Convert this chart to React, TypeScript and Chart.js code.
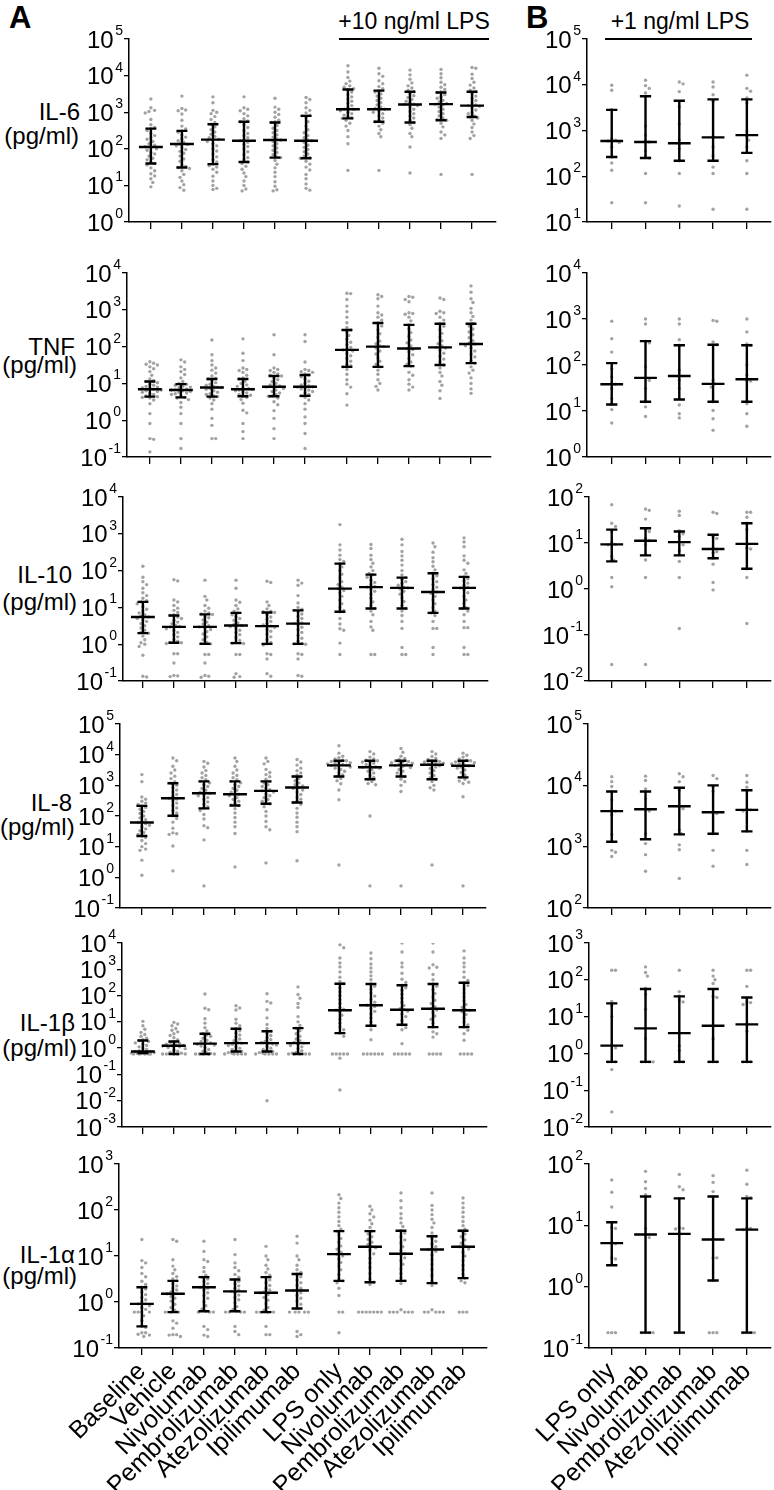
import React, { useEffect, useRef } from 'react';
import { Chart, registerables } from 'chart.js';
Chart.register(...registerables);

const FONT = '"Liberation Sans", Arial, Helvetica, sans-serif';

// ---------- categories ----------
const groupsA = ['Baseline', 'Vehicle', 'Nivolumab', 'Pembrolizumab', 'Atezolizumab', 'Ipilimumab', 'LPS only', 'Nivolumab', 'Pembrolizumab', 'Atezolizumab', 'Ipilimumab'];
const groupsB = ['LPS only', 'Nivolumab', 'Pembrolizumab', 'Atezolizumab', 'Ipilimumab'];
const cytokines = ['IL-6', 'TNF', 'IL-10', 'IL-8', 'IL-1β', 'IL-1α'];
const unitLabel = '(pg/ml)';
const headerA = '+10 ng/ml LPS';
const headerB = '+1 ng/ml LPS';

// y ranges (log10 exponents of tick labels 10^n)
const yRangeA = [[0, 5], [-1, 4], [-1, 4], [-1, 5], [-3, 4], [-1, 3]];
const yRangeB = [[1, 5], [0, 4], [-2, 2], [2, 5], [-2, 3], [-1, 2]];

// ---------- data: log10(pg/ml), one inner list per group ----------
// IL-6, panel A
const il6A = [
  [3.36, 3.12, 3.05, 3.02, 2.98, 2.80, 2.66, 2.58, 2.55, 2.50, 2.42, 2.36, 2.30, 2.26, 2.20, 2.14, 2.10, 2.06, 2.04, 2.00, 1.96, 1.90, 1.86, 1.80, 1.74, 1.70, 1.64, 1.60, 1.56, 1.48, 1.40, 1.32, 1.26, 1.18, 1.08, 0.96],
  [3.44, 3.10, 3.06, 3.04, 2.95, 2.78, 2.62, 2.54, 2.49, 2.45, 2.38, 2.32, 2.27, 2.22, 2.18, 2.13, 2.12, 2.08, 2.02, 1.98, 1.93, 1.88, 1.80, 1.72, 1.66, 1.56, 1.52, 1.49, 1.46, 1.40, 1.30, 1.22, 1.12, 1.02, 0.94, 0.87],
  [3.42, 3.26, 3.05, 3.00, 2.96, 2.88, 2.80, 2.72, 2.67, 2.60, 2.52, 2.46, 2.40, 2.34, 2.30, 2.26, 2.25, 2.20, 2.14, 2.08, 2.00, 1.94, 1.86, 1.78, 1.70, 1.64, 1.58, 1.54, 1.50, 1.44, 1.36, 1.25, 1.12, 1.00, 0.92, 0.89],
  [3.42, 3.12, 3.08, 3.04, 2.96, 2.90, 2.82, 2.76, 2.74, 2.66, 2.58, 2.50, 2.42, 2.36, 2.30, 2.25, 2.22, 2.18, 2.12, 2.06, 2.00, 1.92, 1.84, 1.76, 1.70, 1.64, 1.60, 1.52, 1.44, 1.34, 1.24, 1.12, 1.00, 0.90, 0.85],
  [3.38, 3.14, 3.08, 3.00, 2.94, 2.86, 2.78, 2.74, 2.72, 2.64, 2.56, 2.50, 2.44, 2.38, 2.32, 2.27, 2.24, 2.20, 2.14, 2.08, 2.02, 1.96, 1.90, 1.84, 1.78, 1.76, 1.68, 1.58, 1.48, 1.36, 1.24, 1.10, 0.98, 0.88, 0.85],
  [3.40, 3.35, 3.26, 3.12, 3.05, 2.98, 2.92, 2.90, 2.84, 2.74, 2.62, 2.52, 2.44, 2.36, 2.30, 2.24, 2.22, 2.18, 2.10, 2.04, 1.98, 1.92, 1.86, 1.80, 1.76, 1.74, 1.66, 1.58, 1.50, 1.42, 1.30, 1.18, 1.04, 0.92, 0.87],
  [4.27, 4.10, 3.95, 3.85, 3.78, 3.72, 3.68, 3.64, 3.62, 3.55, 3.48, 3.42, 3.36, 3.30, 3.24, 3.18, 3.12, 3.08, 3.08, 3.04, 3.00, 2.96, 2.92, 2.88, 2.85, 2.83, 2.78, 2.70, 2.62, 2.50, 2.33, 2.14, 1.41],
  [4.20, 4.05, 3.98, 3.86, 3.78, 3.70, 3.64, 3.59, 3.55, 3.50, 3.44, 3.38, 3.32, 3.26, 3.20, 3.14, 3.10, 3.08, 3.04, 3.00, 2.96, 2.90, 2.84, 2.78, 2.74, 2.70, 2.62, 2.52, 2.42, 2.33, 1.41],
  [4.15, 4.02, 3.90, 3.80, 3.72, 3.66, 3.60, 3.56, 3.50, 3.45, 3.40, 3.35, 3.30, 3.26, 3.22, 3.21, 3.18, 3.14, 3.08, 3.02, 2.96, 2.90, 2.84, 2.78, 2.72, 2.66, 2.56, 2.42, 2.33, 2.05, 1.34],
  [4.17, 4.05, 3.94, 3.82, 3.75, 3.68, 3.62, 3.56, 3.54, 3.48, 3.42, 3.38, 3.32, 3.28, 3.24, 3.22, 3.20, 3.14, 3.08, 3.02, 2.96, 2.90, 2.84, 2.80, 2.78, 2.70, 2.60, 2.46, 2.38, 2.28, 1.30],
  [4.22, 4.20, 4.04, 3.92, 3.82, 3.74, 3.66, 3.60, 3.56, 3.50, 3.44, 3.38, 3.32, 3.26, 3.20, 3.18, 3.16, 3.12, 3.06, 3.00, 2.96, 2.90, 2.87, 2.84, 2.78, 2.68, 2.58, 2.46, 2.36, 2.28, 1.30],
];
const il6AMed = [2.05, 2.13, 2.25, 2.22, 2.24, 2.22, 3.08, 3.08, 3.21, 3.22, 3.18];
const il6AQ1 = [1.60, 1.49, 1.58, 1.64, 1.76, 1.74, 2.83, 2.74, 2.72, 2.78, 2.87];
const il6AQ3 = [2.55, 2.49, 2.67, 2.74, 2.72, 2.90, 3.62, 3.59, 3.56, 3.54, 3.56];

// TNF, panel A
const tnfA = [
  [1.59, 1.55, 1.52, 1.50, 1.45, 1.40, 1.32, 1.22, 1.12, 1.08, 1.05, 1.02, 0.98, 0.95, 0.92, 0.90, 0.88, 0.86, 0.84, 0.82, 0.80, 0.78, 0.76, 0.72, 0.70, 0.66, 0.64, 0.62, 0.60, 0.55, 0.45, 0.18, -0.09, -0.50, -0.52, -0.86],
  [1.64, 1.58, 1.45, 1.38, 1.32, 1.24, 1.15, 1.05, 1.00, 0.98, 0.95, 0.92, 0.90, 0.88, 0.85, 0.83, 0.82, 0.80, 0.78, 0.76, 0.74, 0.72, 0.70, 0.66, 0.62, 0.60, 0.56, 0.48, 0.35, 0.18, -0.09, -0.50, -0.77],
  [2.18, 1.78, 1.62, 1.50, 1.42, 1.36, 1.28, 1.20, 1.14, 1.12, 1.08, 1.02, 0.98, 0.95, 0.92, 0.90, 0.89, 0.86, 0.84, 0.80, 0.76, 0.72, 0.70, 0.66, 0.64, 0.60, 0.55, 0.45, 0.30, 0.05, -0.14, -0.50, -0.50],
  [2.21, 1.82, 1.62, 1.42, 1.38, 1.35, 1.30, 1.22, 1.15, 1.12, 1.06, 1.00, 0.96, 0.92, 0.88, 0.86, 0.84, 0.82, 0.80, 0.77, 0.74, 0.70, 0.68, 0.65, 0.62, 0.56, 0.46, 0.27, 0.20, -0.09, -0.31, -0.50],
  [2.32, 1.78, 1.42, 1.38, 1.35, 1.30, 1.26, 1.22, 1.20, 1.15, 1.10, 1.05, 1.00, 0.96, 0.93, 0.91, 0.90, 0.86, 0.82, 0.78, 0.74, 0.70, 0.66, 0.65, 0.60, 0.50, 0.42, 0.26, 0.05, -0.23, -0.50],
  [2.32, 2.14, 1.58, 1.38, 1.35, 1.32, 1.30, 1.26, 1.23, 1.18, 1.12, 1.06, 1.00, 0.96, 0.93, 0.91, 0.90, 0.88, 0.85, 0.82, 0.78, 0.74, 0.70, 0.66, 0.62, 0.55, 0.45, 0.30, 0.09, -0.09, -0.36, -0.77],
  [3.45, 3.44, 3.28, 3.10, 2.95, 2.80, 2.65, 2.52, 2.45, 2.40, 2.30, 2.20, 2.12, 2.05, 1.98, 1.93, 1.91, 1.88, 1.82, 1.75, 1.68, 1.60, 1.52, 1.48, 1.45, 1.38, 1.25, 1.10, 0.98, 0.90, 0.72, 0.41],
  [3.41, 3.36, 3.30, 3.10, 2.92, 2.86, 2.80, 2.72, 2.64, 2.56, 2.45, 2.35, 2.25, 2.15, 2.08, 2.02, 2.00, 1.96, 1.88, 1.80, 1.70, 1.60, 1.52, 1.45, 1.36, 1.25, 1.10, 1.00, 0.92, 0.82],
  [3.36, 3.34, 3.28, 3.22, 2.92, 2.90, 2.88, 2.80, 2.70, 2.59, 2.48, 2.38, 2.28, 2.18, 2.10, 2.02, 1.95, 1.92, 1.86, 1.78, 1.68, 1.58, 1.52, 1.47, 1.30, 1.22, 1.10, 0.98, 0.90, 0.82],
  [3.32, 3.28, 2.96, 2.92, 2.90, 2.80, 2.72, 2.62, 2.55, 2.46, 2.36, 2.26, 2.16, 2.08, 2.02, 1.98, 1.96, 1.90, 1.82, 1.74, 1.66, 1.58, 1.50, 1.42, 1.30, 1.20, 1.05, 0.95, 0.80, 0.59],
  [3.65, 3.48, 3.30, 3.20, 3.04, 2.92, 2.82, 2.72, 2.62, 2.56, 2.48, 2.40, 2.32, 2.24, 2.16, 2.10, 2.07, 2.02, 1.96, 1.88, 1.80, 1.72, 1.62, 1.55, 1.45, 1.36, 1.28, 1.15, 1.00, 0.85, 0.73],
];
const tnfAMed = [0.84, 0.82, 0.89, 0.84, 0.91, 0.91, 1.91, 2.00, 1.95, 1.98, 2.07];
const tnfAQ1 = [0.64, 0.62, 0.64, 0.65, 0.65, 0.66, 1.45, 1.45, 1.47, 1.50, 1.55];
const tnfAQ3 = [1.05, 0.98, 1.12, 1.12, 1.20, 1.23, 2.45, 2.64, 2.59, 2.62, 2.62];

// IL-10, panel A
const il10A = [
  [2.12, 1.82, 1.70, 1.62, 1.52, 1.40, 1.32, 1.25, 1.18, 1.15, 1.10, 1.02, 0.95, 0.90, 0.85, 0.80, 0.76, 0.74, 0.70, 0.66, 0.62, 0.56, 0.50, 0.44, 0.38, 0.32, 0.30, 0.22, 0.12, 0.04, 0.00, -0.06, -0.30, -0.87, -0.89],
  [1.75, 1.72, 1.20, 1.15, 1.05, 0.98, 0.92, 0.86, 0.80, 0.78, 0.74, 0.70, 0.65, 0.60, 0.56, 0.50, 0.48, 0.47, 0.42, 0.38, 0.32, 0.26, 0.20, 0.12, 0.08, 0.05, 0.04, 0.02, -0.26, -0.26, -0.51, -0.85, -0.86, -0.88],
  [1.74, 1.30, 1.20, 1.05, 0.98, 0.90, 0.85, 0.82, 0.81, 0.76, 0.72, 0.66, 0.60, 0.55, 0.50, 0.47, 0.44, 0.40, 0.34, 0.28, 0.20, 0.12, 0.05, 0.02, 0.01, -0.28, -0.28, -0.51, -0.85, -0.87, -0.90],
  [1.74, 1.52, 1.20, 1.14, 1.05, 0.96, 0.90, 0.85, 0.80, 0.75, 0.70, 0.65, 0.58, 0.54, 0.51, 0.48, 0.44, 0.38, 0.32, 0.26, 0.18, 0.10, 0.05, 0.03, 0.02, -0.28, -0.28, -0.80, -0.88, -0.90],
  [1.71, 1.68, 1.15, 1.05, 0.96, 0.90, 0.88, 0.86, 0.80, 0.74, 0.68, 0.62, 0.56, 0.52, 0.49, 0.46, 0.40, 0.35, 0.28, 0.20, 0.12, 0.05, 0.01, -0.02, -0.26, -0.28, -0.40, -0.80, -0.87],
  [1.74, 1.66, 1.60, 1.32, 1.12, 1.00, 0.95, 0.92, 0.88, 0.82, 0.76, 0.70, 0.64, 0.58, 0.56, 0.52, 0.46, 0.40, 0.32, 0.24, 0.16, 0.08, 0.02, 0.01, 0.00, -0.26, -0.28, -0.40, -0.85, -0.87],
  [3.25, 2.70, 2.56, 2.42, 2.30, 2.25, 2.19, 2.10, 2.00, 1.90, 1.80, 1.70, 1.62, 1.55, 1.51, 1.46, 1.40, 1.30, 1.20, 1.10, 1.00, 0.92, 0.88, 0.70, 0.55, 0.42, 0.38, 0.03, -0.28],
  [2.71, 2.60, 2.42, 2.30, 2.20, 2.10, 2.00, 1.92, 1.89, 1.82, 1.74, 1.68, 1.62, 1.57, 1.55, 1.50, 1.44, 1.36, 1.25, 1.15, 1.05, 0.97, 0.90, 0.80, 0.62, 0.47, 0.38, -0.28, -0.28],
  [2.85, 2.70, 2.52, 2.40, 2.28, 2.15, 2.00, 1.88, 1.81, 1.76, 1.70, 1.65, 1.60, 1.55, 1.53, 1.50, 1.44, 1.36, 1.26, 1.16, 1.05, 0.97, 0.90, 0.78, 0.62, 0.43, -0.09, -0.28, -0.28],
  [2.75, 2.65, 2.50, 2.35, 2.24, 2.12, 2.02, 1.93, 1.86, 1.78, 1.70, 1.62, 1.55, 1.48, 1.42, 1.38, 1.30, 1.20, 1.10, 1.00, 0.90, 0.85, 0.78, 0.62, 0.43, 0.43, -0.09, -0.28],
  [2.89, 2.78, 2.65, 2.40, 2.28, 2.20, 2.02, 1.92, 1.83, 1.78, 1.72, 1.66, 1.60, 1.55, 1.53, 1.48, 1.40, 1.30, 1.20, 1.10, 1.00, 0.97, 0.90, 0.80, 0.62, 0.45, 0.45, -0.09, -0.28, -0.28],
];
const il10AMed = [0.74, 0.47, 0.47, 0.51, 0.49, 0.56, 1.51, 1.55, 1.53, 1.42, 1.53];
const il10AQ1 = [0.30, 0.04, 0.01, 0.03, 0.01, 0.01, 0.88, 0.97, 0.97, 0.85, 0.97];
const il10AQ3 = [1.15, 0.78, 0.81, 0.85, 0.86, 0.92, 2.19, 1.89, 1.81, 1.93, 1.83];

// IL-8, panel A
const il8A = [
  [3.35, 3.12, 2.62, 2.55, 2.48, 2.42, 2.38, 2.33, 2.28, 2.22, 2.15, 2.08, 2.00, 1.94, 1.88, 1.82, 1.79, 1.75, 1.70, 1.64, 1.58, 1.52, 1.46, 1.40, 1.35, 1.30, 1.20, 1.10, 1.00, 0.92, 0.88, 0.56, 0.07],
  [3.89, 3.80, 3.62, 3.50, 3.40, 3.30, 3.22, 3.12, 3.07, 3.00, 2.92, 2.85, 2.78, 2.70, 2.64, 2.58, 2.55, 2.50, 2.42, 2.34, 2.26, 2.18, 2.10, 2.01, 1.92, 1.80, 1.60, 1.45, 1.42, 1.40, 1.02, 0.21],
  [3.78, 3.72, 3.60, 3.48, 3.40, 3.32, 3.25, 3.18, 3.13, 3.08, 3.02, 2.96, 2.90, 2.84, 2.78, 2.74, 2.70, 2.66, 2.60, 2.54, 2.46, 2.38, 2.30, 2.25, 2.18, 2.05, 1.90, 1.68, 1.62, 1.22, -0.28],
  [3.89, 3.78, 3.62, 3.50, 3.40, 3.32, 3.25, 3.18, 3.13, 3.08, 3.02, 2.96, 2.90, 2.84, 2.78, 2.72, 2.71, 2.66, 2.60, 2.54, 2.48, 2.42, 2.36, 2.34, 2.24, 2.10, 1.95, 1.80, 1.65, 1.43, 0.34],
  [3.89, 3.78, 3.70, 3.52, 3.42, 3.35, 3.28, 3.20, 3.13, 3.08, 3.02, 2.96, 2.90, 2.86, 2.82, 2.78, 2.72, 2.66, 2.60, 2.54, 2.48, 2.42, 2.40, 2.30, 2.15, 2.00, 1.82, 1.65, 1.55, 0.47],
  [3.84, 3.76, 3.66, 3.56, 3.48, 3.40, 3.34, 3.29, 3.22, 3.15, 3.08, 3.02, 2.98, 2.93, 2.90, 2.85, 2.78, 2.70, 2.62, 2.55, 2.48, 2.44, 2.38, 2.25, 2.10, 1.96, 1.80, 1.65, 1.49, 0.54],
  [4.29, 4.05, 3.95, 3.90, 3.86, 3.82, 3.80, 3.78, 3.76, 3.74, 3.72, 3.70, 3.68, 3.66, 3.65, 3.63, 3.60, 3.56, 3.52, 3.46, 3.40, 3.34, 3.29, 3.22, 3.15, 3.05, 2.85, 2.53, 0.40],
  [4.10, 4.02, 3.92, 3.86, 3.82, 3.80, 3.78, 3.76, 3.72, 3.68, 3.64, 3.60, 3.59, 3.56, 3.52, 3.46, 3.40, 3.32, 3.26, 3.20, 3.12, 3.06, 3.02, 2.00, -0.28],
  [4.20, 4.08, 3.95, 3.88, 3.84, 3.80, 3.78, 3.76, 3.74, 3.72, 3.70, 3.67, 3.65, 3.62, 3.58, 3.52, 3.46, 3.40, 3.34, 3.29, 3.20, 3.12, 3.00, 2.80, -0.28],
  [4.10, 4.02, 3.94, 3.88, 3.84, 3.80, 3.78, 3.76, 3.74, 3.72, 3.70, 3.67, 3.64, 3.60, 3.55, 3.48, 3.40, 3.32, 3.25, 3.20, 3.12, 3.00, 2.92, 2.85, 0.40],
  [4.05, 3.98, 3.92, 3.86, 3.82, 3.80, 3.78, 3.76, 3.74, 3.72, 3.70, 3.66, 3.64, 3.60, 3.56, 3.50, 3.42, 3.34, 3.26, 3.20, 3.14, 3.10, 3.06, 2.63, -0.28],
];
const il8AMed = [1.79, 2.58, 2.74, 2.71, 2.82, 2.93, 3.65, 3.59, 3.65, 3.67, 3.64];
const il8AQ1 = [1.35, 2.01, 2.25, 2.34, 2.40, 2.44, 3.29, 3.20, 3.29, 3.20, 3.26];
const il8AQ3 = [2.33, 3.07, 3.13, 3.13, 3.13, 3.29, 3.80, 3.80, 3.80, 3.80, 3.80];

// IL-1beta, panel A
const il1bA = [
  [1.02, 0.85, 0.72, 0.60, 0.52, 0.45, 0.38, 0.32, 0.29, 0.25, 0.20, 0.15, 0.10, 0.05, 0.00, -0.05, -0.10, -0.13, -0.13, -0.15, -0.17, -0.19, -0.19, -0.20, -0.21, -0.22, -0.22, -0.22, -0.22, -0.22],
  [0.98, 0.92, 0.85, 0.75, 0.68, 0.62, 0.55, 0.48, 0.40, 0.32, 0.25, 0.22, 0.18, 0.15, 0.12, 0.10, 0.09, 0.08, 0.05, 0.02, -0.02, -0.08, -0.12, -0.16, -0.19, -0.22, -0.22, -0.22, -0.22, -0.22],
  [2.06, 1.52, 1.46, 1.12, 0.95, 0.78, 0.65, 0.55, 0.50, 0.45, 0.38, 0.30, 0.25, 0.20, 0.17, 0.15, 0.12, 0.08, 0.02, -0.05, -0.12, -0.18, -0.20, -0.22, -0.22, -0.22, -0.22, -0.22],
  [1.61, 1.53, 1.45, 1.10, 0.95, 0.85, 0.74, 0.66, 0.58, 0.50, 0.42, 0.35, 0.28, 0.22, 0.19, 0.15, 0.10, 0.05, 0.00, -0.05, -0.10, -0.13, -0.17, -0.20, -0.22, -0.22, -0.22, -0.22, -0.22],
  [2.07, 1.78, 1.72, 1.46, 1.15, 0.90, 0.75, 0.64, 0.56, 0.48, 0.40, 0.32, 0.26, 0.22, 0.19, 0.16, 0.12, 0.06, 0.00, -0.05, -0.10, -0.13, -0.17, -0.20, -0.22, -0.22, -0.22, -0.22, -0.22, -2.00],
  [2.33, 2.04, 1.90, 1.70, 1.55, 1.20, 1.00, 0.86, 0.76, 0.66, 0.55, 0.45, 0.35, 0.28, 0.22, 0.19, 0.15, 0.10, 0.05, -0.02, -0.10, -0.16, -0.19, -0.22, -0.22, -0.22, -0.22, -0.22],
  [3.93, 3.82, 3.43, 3.24, 3.09, 2.90, 2.70, 2.54, 2.45, 2.30, 2.15, 2.00, 1.85, 1.70, 1.55, 1.48, 1.44, 1.38, 1.25, 1.10, 0.95, 0.80, 0.70, 0.57, 0.45, -0.22, -0.22, -0.22, -0.22, -0.22, -0.38, -1.59],
  [3.62, 3.40, 3.20, 3.05, 2.90, 2.75, 2.60, 2.44, 2.35, 2.25, 2.10, 1.98, 1.85, 1.75, 1.66, 1.63, 1.58, 1.50, 1.40, 1.30, 1.15, 1.00, 0.85, 0.70, 0.32, -0.22, -0.22, -0.22, -0.22, -0.22, -0.22],
  [4.00, 3.66, 3.24, 3.09, 2.85, 2.62, 2.50, 2.39, 2.30, 2.20, 2.05, 1.90, 1.75, 1.62, 1.50, 1.46, 1.40, 1.30, 1.20, 1.05, 0.89, 0.78, 0.70, 0.17, -0.22, -0.22, -0.22, -0.22, -0.22],
  [4.00, 3.66, 3.17, 3.08, 3.05, 2.80, 2.60, 2.44, 2.35, 2.22, 2.08, 1.95, 1.82, 1.70, 1.58, 1.50, 1.45, 1.35, 1.22, 1.10, 0.95, 0.80, 0.62, 0.55, 0.42, -0.22, -0.22, -0.22, -0.22],
  [3.70, 3.43, 3.24, 3.09, 2.90, 2.70, 2.58, 2.49, 2.38, 2.25, 2.10, 1.95, 1.80, 1.66, 1.55, 1.46, 1.44, 1.38, 1.28, 1.15, 1.00, 0.88, 0.80, 0.68, 0.55, 0.30, -0.22, -0.22, -0.22, -0.22],
];
const il1bAMed = [-0.13, 0.09, 0.17, 0.19, 0.19, 0.19, 1.44, 1.63, 1.46, 1.50, 1.44];
const il1bAQ1 = [-0.19, -0.22, -0.22, -0.13, -0.13, -0.22, 0.57, 0.85, 0.89, 0.80, 0.80];
const il1bAQ3 = [0.29, 0.25, 0.55, 0.74, 0.64, 0.76, 2.45, 2.44, 2.39, 2.44, 2.49];

// IL-1alpha, panel A
const il1aA = [
  [1.36, 0.90, 0.85, 0.75, 0.62, 0.55, 0.45, 0.38, 0.32, 0.28, 0.22, 0.16, 0.10, 0.05, 0.00, -0.04, -0.04, -0.08, -0.12, -0.16, -0.22, -0.22, -0.22, -0.22, -0.30, -0.40, -0.53, -0.55, -0.67, -0.67, -0.70, -0.72, -0.75],
  [1.36, 1.32, 0.92, 0.78, 0.70, 0.62, 0.55, 0.50, 0.46, 0.40, 0.35, 0.30, 0.26, 0.22, 0.18, 0.18, 0.12, 0.08, 0.02, -0.05, -0.12, -0.18, -0.22, -0.22, -0.22, -0.41, -0.46, -0.57, -0.71, -0.71, -0.72, -0.75],
  [1.32, 1.10, 0.92, 0.88, 0.75, 0.66, 0.58, 0.54, 0.50, 0.45, 0.40, 0.36, 0.32, 0.30, 0.26, 0.20, 0.14, 0.08, 0.00, -0.08, -0.15, -0.20, -0.22, -0.22, -0.22, -0.53, -0.60, -0.72, -0.75],
  [1.36, 1.03, 0.85, 0.75, 0.68, 0.60, 0.54, 0.49, 0.45, 0.40, 0.35, 0.30, 0.26, 0.23, 0.20, 0.15, 0.10, 0.05, -0.02, -0.10, -0.16, -0.20, -0.22, -0.22, -0.22, -0.22, -0.53, -0.64, -0.71],
  [1.21, 1.00, 0.92, 0.80, 0.72, 0.64, 0.58, 0.54, 0.48, 0.42, 0.36, 0.30, 0.26, 0.22, 0.20, 0.16, 0.10, 0.04, -0.04, -0.12, -0.18, -0.22, -0.22, -0.22, -0.22, -0.53, -0.71, -0.71],
  [1.43, 1.28, 1.00, 0.92, 0.80, 0.70, 0.64, 0.61, 0.55, 0.48, 0.42, 0.36, 0.30, 0.26, 0.25, 0.20, 0.14, 0.08, 0.02, -0.05, -0.14, -0.22, -0.22, -0.22, -0.22, -0.22, -0.64, -0.71, -0.75],
  [2.33, 2.25, 2.15, 2.05, 1.95, 1.85, 1.75, 1.66, 1.58, 1.54, 1.46, 1.38, 1.30, 1.22, 1.15, 1.08, 1.04, 1.00, 0.94, 0.86, 0.78, 0.70, 0.60, 0.50, 0.46, 0.42, 0.30, 0.14, -0.22, -0.22, -0.67],
  [2.08, 2.00, 1.92, 1.85, 1.78, 1.70, 1.62, 1.54, 1.48, 1.42, 1.36, 1.30, 1.25, 1.20, 1.18, 1.12, 1.05, 0.95, 0.85, 0.75, 0.62, 0.50, 0.43, 0.38, -0.22, -0.22, -0.22, -0.22, -0.22, -0.22, -0.22],
  [2.37, 2.20, 2.05, 1.92, 1.82, 1.72, 1.64, 1.55, 1.50, 1.42, 1.35, 1.28, 1.20, 1.12, 1.05, 1.02, 0.96, 0.90, 0.82, 0.72, 0.62, 0.52, 0.46, 0.40, -0.17, -0.22, -0.22, -0.22, -0.22, -0.22, -0.22],
  [2.37, 2.10, 2.00, 1.90, 1.80, 1.72, 1.62, 1.50, 1.43, 1.38, 1.32, 1.26, 1.20, 1.16, 1.14, 1.10, 1.02, 0.92, 0.82, 0.70, 0.58, 0.46, 0.41, 0.36, -0.17, -0.22, -0.22, -0.22, -0.22, -0.22],
  [2.26, 2.15, 2.05, 1.95, 1.85, 1.75, 1.66, 1.58, 1.55, 1.48, 1.42, 1.35, 1.28, 1.22, 1.20, 1.15, 1.08, 1.00, 0.90, 0.80, 0.70, 0.60, 0.52, 0.46, 0.42, -0.22, -0.22, -0.22],
];
const il1aAMed = [-0.04, 0.18, 0.32, 0.23, 0.20, 0.25, 1.04, 1.20, 1.05, 1.14, 1.20];
const il1aAQ1 = [-0.53, -0.22, -0.20, -0.20, -0.22, -0.14, 0.46, 0.43, 0.46, 0.41, 0.52];
const il1aAQ3 = [0.32, 0.46, 0.54, 0.49, 0.54, 0.61, 1.54, 1.54, 1.55, 1.43, 1.55];

// ---------- panel B (+1 ng/ml LPS) ----------
const il6B = [
  [3.99, 3.88, 3.46, 2.82, 2.79, 2.77, 2.74, 2.64, 2.42, 2.29, 2.13, 1.42],
  [4.10, 3.98, 3.92, 3.82, 3.10, 2.90, 2.79, 2.75, 2.55, 2.45, 2.40, 2.06, 1.42],
  [4.06, 4.02, 3.85, 3.52, 3.15, 2.79, 2.70, 2.60, 2.34, 2.06, 1.35],
  [4.06, 3.95, 3.78, 3.64, 2.87, 2.64, 2.45, 2.20, 2.06, 1.28],
  [4.21, 3.92, 3.86, 3.71, 3.60, 2.98, 2.87, 2.79, 2.64, 2.34, 2.06, 1.28],
];
const il6BMed = [2.77, 2.75, 2.72, 2.85, 2.90];
const il6BQ1 = [2.42, 2.40, 2.34, 2.34, 2.51];
const il6BQ3 = [3.45, 3.75, 3.65, 3.68, 3.68];

const tnfB = [
  [2.95, 2.57, 2.28, 1.92, 1.74, 1.60, 1.58, 1.49, 1.27, 1.14, 1.03, 0.74],
  [3.00, 2.89, 2.52, 2.48, 1.96, 1.72, 1.67, 1.49, 1.20, 1.09, 0.88],
  [3.00, 2.89, 2.55, 2.43, 1.89, 1.76, 1.67, 1.49, 1.13, 0.94, 0.85],
  [2.97, 2.95, 2.50, 2.44, 1.67, 1.59, 1.52, 1.20, 1.01, 0.83, 0.58],
  [3.00, 2.72, 2.46, 2.43, 2.00, 1.78, 1.67, 1.65, 1.16, 0.94, 0.67],
];
const tnfBMed = [1.58, 1.72, 1.76, 1.59, 1.69];
const tnfBQ1 = [1.14, 1.20, 1.25, 1.20, 1.20];
const tnfBQ3 = [2.04, 2.52, 2.43, 2.44, 2.43];

const il10B = [
  [1.83, 1.43, 1.36, 1.25, 1.02, 0.97, 0.96, 0.71, 0.63, 0.25, 0.05, -1.64],
  [1.74, 1.71, 1.52, 1.30, 1.25, 1.10, 1.05, 0.96, 0.75, 0.63, 0.25, -1.64],
  [1.69, 1.60, 1.27, 1.20, 1.14, 1.02, 0.96, 0.83, 0.60, 0.25, -0.86],
  [1.67, 1.64, 1.14, 1.10, 0.88, 0.81, 0.79, 0.67, 0.54, 0.14, -0.02],
  [1.67, 1.67, 1.56, 1.43, 1.29, 0.98, 0.89, 0.87, 0.44, 0.25, -0.75],
];
const il10BMed = [0.97, 1.05, 1.02, 0.87, 0.98];
const il10BQ1 = [0.60, 0.73, 0.73, 0.67, 0.44];
const il10BQ3 = [1.29, 1.32, 1.25, 1.18, 1.43];

const il8B = [
  [4.14, 4.06, 3.98, 3.90, 3.76, 3.60, 3.58, 3.52, 3.20, 2.94, 2.91, 2.84],
  [4.15, 4.08, 3.94, 3.78, 3.61, 3.58, 3.21, 3.05, 2.87, 2.60],
  [4.19, 4.14, 4.06, 3.92, 3.66, 3.62, 3.27, 3.21, 3.03, 2.95, 2.48],
  [4.16, 4.11, 3.98, 3.90, 3.56, 3.54, 3.21, 2.94, 2.68],
  [4.16, 4.05, 3.97, 3.62, 3.60, 3.58, 3.25, 2.94, 2.71],
];
const il8BMed = [3.58, 3.61, 3.66, 3.56, 3.60];
const il8BQ1 = [3.08, 3.12, 3.20, 3.21, 3.25];
const il8BQ3 = [3.90, 3.90, 3.96, 4.00, 3.92];

const il1bB = [
  [2.26, 2.26, 1.41, 1.30, 1.00, 0.21, 0.15, -0.23, -0.23, -0.23, -0.44, -1.59],
  [2.35, 2.20, 2.10, 1.77, 1.60, 1.20, 0.68, 0.40, -0.23, -0.23, -0.23, -0.23],
  [2.26, 1.68, 1.56, 1.45, 1.40, 0.55, 0.20, 0.08, -0.23, -0.23, -0.23],
  [2.26, 2.10, 2.00, 1.90, 1.55, 1.52, 0.75, 0.40, -0.23, -0.23, -0.23],
  [2.26, 2.26, 1.82, 1.40, 1.38, 1.33, 0.79, 0.60, -0.23, -0.23, -0.23],
];
const il1bBMed = [0.21, 0.68, 0.55, 0.75, 0.79];
const il1bBQ1 = [-0.23, -0.23, -0.23, -0.23, -0.23];
const il1bBQ3 = [1.36, 1.75, 1.55, 1.75, 1.52];

const il1aB = [
  [1.74, 1.54, 1.30, 0.96, 0.95, 0.72, 0.70, 0.47, 0.45, -0.75, -0.75, -0.75],
  [1.88, 1.71, 1.60, 1.50, 0.95, 0.85, 0.80, -0.75, -0.75, -0.75, -0.75],
  [1.83, 1.63, 1.58, 1.44, 0.96, 0.95, 0.94, 0.86, -0.75, -0.75, -0.75],
  [1.81, 1.70, 1.55, 1.47, 0.77, 0.47, 0.47, 0.10, -0.75, -0.75, -0.75],
  [1.90, 1.67, 1.47, 1.45, 0.96, 0.95, 0.93, -0.75, -0.75, -0.75, -0.75],
];
const il1aBMed = [0.71, 0.85, 0.86, 0.77, 0.93];
const il1aBQ1 = [0.35, -0.75, -0.75, 0.10, -0.75];
const il1aBQ3 = [1.05, 1.47, 1.44, 1.47, 1.44];

// ---------- layout (pixels) ----------
const rowTop = [39, 273, 497, 724, 943, 1164];
const rowBottom = [222, 457, 681, 908, 1127, 1348];
const axisXA = [129, 127, 123, 120, 122, 119];
const firstTickA = [151, 150, 143, 142, 143, 142];
const endA = [498, 493, 490, 488, 489, 489];
const axisXB = [587, 587, 589, 588, 589, 589];
const firstTickB = 612;
const endB = 773;
const spacingA = 31.2;
const spacingB = 34.15;
const xPosA = [0, 1, 2, 3, 4, 5, 6.35, 7.35, 8.35, 9.35, 10.35];
const xPosB = [0, 1, 2, 3, 4];
const canvasLeftA = 60;
const canvasLeftB = 535;
// title line positions: [rightEdge, baseline]
const titlePos = [
  [[80, 120.5], [79, 144.5]],
  [[75, 355], [77, 373]],
  [[72, 583], [77, 610]],
  [[72, 811.5], [72, 835.5]],
  [[75, 1031.5], [77, 1056.5]],
  [[75, 1263.5], [77, 1284.5]],
];

const dataA = [
  [il6A, il6AMed, il6AQ1, il6AQ3],
  [tnfA, tnfAMed, tnfAQ1, tnfAQ3],
  [il10A, il10AMed, il10AQ1, il10AQ3],
  [il8A, il8AMed, il8AQ1, il8AQ3],
  [il1bA, il1bAMed, il1bAQ1, il1bAQ3],
  [il1aA, il1aAMed, il1aAQ1, il1aAQ3],
];
const dataB = [
  [il6B, il6BMed, il6BQ1, il6BQ3],
  [tnfB, tnfBMed, tnfBQ1, tnfBQ3],
  [il10B, il10BMed, il10BQ1, il10BQ3],
  [il8B, il8BMed, il8BQ1, il8BQ3],
  [il1bB, il1bBMed, il1bBQ1, il1bBQ3],
  [il1aB, il1aBMed, il1aBQ1, il1aBQ3],
];

// beeswarm horizontal offsets (pixels), limited to +/- maxHalf (dots may overlap when crowded)
function swarmOffsets(vals: number[], pxPerUnit: number, d: number, maxHalf: number): number[] {
  const order = vals.map((_, i) => i).sort((a, b) => vals[b] - vals[a]);
  const placed: number[][] = [];
  const out = vals.map(() => 0);
  const cands: number[] = [0];
  for (let k = 1; k * d * 0.5 <= maxHalf; k++) { cands.push(k * d * 0.5, -k * d * 0.5); }
  for (const i of order) {
    const py = vals[i] * pxPerUnit;
    let chosen = NaN;
    let bestC = 0, bestD = -1;
    for (const c of cands) {
      let minD = Infinity;
      for (const [qx, qy] of placed) {
        const dd = (qx - c) * (qx - c) + (qy - py) * (qy - py);
        if (dd < minD) minD = dd;
      }
      if (minD >= d * d) { chosen = c; break; }
      if (minD > bestD) { bestD = minD; bestC = c; }
    }
    if (isNaN(chosen)) chosen = bestC;
    out[i] = chosen;
    placed.push([chosen, py]);
  }
  return out;
}

type PanelProps = {
  dots: number[][]; med: number[]; q1: number[]; q3: number[];
  yMin: number; yMax: number; labels: string[]; pos: number[];
  canvasLeft: number; axisX: number; firstTick: number; spacing: number; end: number;
  top: number; bottom: number; showLabels: boolean; medHalf: number; capHalf: number; swarmHalf: number;
};

const PAD_TOP = 22;

function Panel(p: PanelProps) {
  const ref = useRef<HTMLCanvasElement>(null);
  const xH = p.showLabels ? 220 : 12;
  const width = p.end - p.canvasLeft + 2;
  const height = p.bottom - p.top + PAD_TOP + xH;
  useEffect(() => {
    if (!ref.current) return;
    const xMin = -(p.firstTick - p.axisX) / p.spacing;
    const xMax = (p.end - p.firstTick) / p.spacing;
    const pxY = (p.bottom - p.top) / (p.yMax - p.yMin);
    const dotsData: { x: number; y: number }[] = [];
    p.dots.forEach((vals, g) => {
      const offs = swarmOffsets(vals, pxY, 3.8, p.swarmHalf);
      vals.forEach((v, i) => dotsData.push({ x: p.pos[g] + offs[i] / p.spacing, y: v }));
    });
    const mh = p.medHalf / p.spacing;
    const ch = p.capHalf / p.spacing;
    const bars: { x: number; y: number | null }[] = [];
    p.med.forEach((m, g) => {
      const x = p.pos[g];
      bars.push(
        { x: x - mh, y: m }, { x: x + mh, y: m }, { x, y: null },
        { x, y: p.q1[g] }, { x, y: p.q3[g] }, { x, y: null },
        { x: x - ch, y: p.q3[g] }, { x: x + ch, y: p.q3[g] }, { x, y: null },
        { x: x - ch, y: p.q1[g] }, { x: x + ch, y: p.q1[g] }, { x, y: null },
      );
    });
    const yMin = p.yMin, yMax = p.yMax;
    const logLabels = {
      id: 'logLabels',
      afterDraw(chart: any) {
        const s = chart.scales.y;
        const ctx = chart.ctx;
        ctx.save();
        ctx.fillStyle = '#000';
        ctx.textAlign = 'right';
        ctx.textBaseline = 'alphabetic';
        for (let v = yMin; v <= yMax; v++) {
          const py = s.getPixelForValue(v);
          const right = s.right - 6;
          const sup = v < 0 ? '-' + (-v) : String(v);
          ctx.font = `14px ${FONT}`;
          const sw = ctx.measureText(sup).width;
          ctx.fillText(sup, right, py - 4);
          ctx.font = `24px ${FONT}`;
          ctx.fillText('10', right - sw - 1.5, py + 8.5);
        }
        ctx.restore();
      },
    };
    const chart = new Chart(ref.current, {
      type: 'scatter',
      data: {
        datasets: [
          {
            data: bars as any,
            showLine: true,
            spanGaps: false,
            borderColor: '#000',
            borderWidth: 2.4,
            borderCapStyle: 'butt',
            pointRadius: 0,
            pointHoverRadius: 0,
          } as any,
          {
            data: dotsData,
            showLine: false,
            pointRadius: 1.7,
            pointBorderWidth: 0,
            pointBackgroundColor: '#a2a2a2',
            pointBorderColor: '#a2a2a2',
          } as any,
        ],
      },
      options: {
        responsive: false,
        animation: false,
        events: [],
        layout: { padding: { top: PAD_TOP, left: 0, right: 2, bottom: 0 } },
        plugins: { legend: { display: false }, tooltip: { enabled: false } },
        scales: {
          x: {
            type: 'linear',
            min: xMin,
            max: xMax,
            afterBuildTicks: (s: any) => { s.ticks = p.pos.map((v) => ({ value: v })); },
            afterFit: (s: any) => { s.height = xH; s.paddingLeft = 0; s.paddingRight = 0; },
            ticks: {
              display: p.showLabels,
              autoSkip: false,
              minRotation: 45,
              maxRotation: 45,
              padding: 2,
              color: '#000',
              font: { family: FONT, size: 25 },
              callback: (_v: any, i: number) => p.labels[i],
            },
            grid: { display: true, drawOnChartArea: false, drawTicks: true, tickLength: 7, color: '#000', lineWidth: 1.3 },
            border: { display: true, color: '#000', width: 1.5 },
          },
          y: {
            type: 'linear',
            min: yMin,
            max: yMax,
            ticks: { display: false, stepSize: 1 },
            afterFit: (s: any) => { s.width = p.axisX - p.canvasLeft; s.paddingTop = 0; s.paddingBottom = 0; },
            grid: { display: true, drawOnChartArea: false, drawTicks: true, tickLength: 5, color: '#000', lineWidth: 1.3 },
            border: { display: true, color: '#000', width: 1.5 },
          },
        },
      } as any,
      plugins: [logLabels],
    });
    return () => chart.destroy();
  }, []);
  return (
    <canvas
      ref={ref}
      width={width}
      height={height}
      style={{ position: 'absolute', left: p.canvasLeft, top: p.top - PAD_TOP, width, height }}
    />
  );
}

export default function App() {
  const textBase: React.CSSProperties = { position: 'absolute', fontFamily: FONT, color: '#000', whiteSpace: 'nowrap' };
  return (
    <div style={{ position: 'absolute', left: 0, top: 0, width: 774, height: 1490, overflow: 'hidden', background: '#fff' }}>
      <div style={{ ...textBase, left: 9, top: 2, fontSize: 31, lineHeight: '31px', fontWeight: 'bold' }}>A</div>
      <div style={{ ...textBase, left: 526, top: 2, fontSize: 31, lineHeight: '31px', fontWeight: 'bold' }}>B</div>
      <div style={{ ...textBase, left: 314, width: 200, textAlign: 'center', top: 9.5, fontSize: 23, lineHeight: '23px' }}>{headerA}</div>
      <div style={{ position: 'absolute', left: 339, width: 150, top: 38.3, height: 1.5, background: '#000' }} />
      <div style={{ ...textBase, left: 580, width: 200, textAlign: 'center', top: 9.5, fontSize: 23, lineHeight: '23px' }}>{headerB}</div>
      <div style={{ position: 'absolute', left: 605, width: 147, top: 38.3, height: 1.5, background: '#000' }} />
      {cytokines.map((c, r) => (
        <React.Fragment key={'t' + r}>
          <div style={{ ...textBase, left: 0, width: titlePos[r][0][0], textAlign: 'right', top: titlePos[r][0][1] - 20.3, fontSize: 24, lineHeight: '24px' }}>{c}</div>
          <div style={{ ...textBase, left: 0, width: titlePos[r][1][0], textAlign: 'right', top: titlePos[r][1][1] - 20.3, fontSize: 24, lineHeight: '24px' }}>{unitLabel}</div>
        </React.Fragment>
      ))}
      {dataA.map((d, r) => (
        <Panel
          key={'a' + r}
          dots={d[0] as number[][]} med={d[1] as number[]} q1={d[2] as number[]} q3={d[3] as number[]}
          yMin={yRangeA[r][0]} yMax={yRangeA[r][1]} labels={groupsA} pos={xPosA}
          canvasLeft={canvasLeftA} axisX={axisXA[r]} firstTick={firstTickA[r]} spacing={spacingA} end={endA[r]}
          top={rowTop[r]} bottom={rowBottom[r]} showLabels={r === 5} medHalf={12} capHalf={5.5} swarmHalf={12}
        />
      ))}
      {dataB.map((d, r) => (
        <Panel
          key={'b' + r}
          dots={d[0] as number[][]} med={d[1] as number[]} q1={d[2] as number[]} q3={d[3] as number[]}
          yMin={yRangeB[r][0]} yMax={yRangeB[r][1]} labels={groupsB} pos={xPosB}
          canvasLeft={canvasLeftB} axisX={axisXB[r]} firstTick={firstTickB} spacing={spacingB} end={endB}
          top={rowTop[r]} bottom={rowBottom[r]} showLabels={r === 5} medHalf={11.5} capHalf={5.7} swarmHalf={11}
        />
      ))}
    </div>
  );
}
